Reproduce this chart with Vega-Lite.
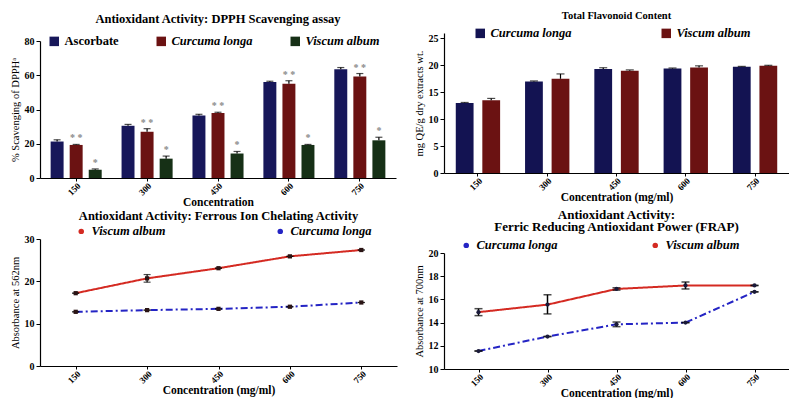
{
  "$schema": "https://vega.github.io/schema/vega-lite/v6.json",
  "background": "white",
  "padding": {"left": 10, "top": 10, "right": 0, "bottom": 0},
  "config": {
    "font": "Liberation Serif",
    "view": {"stroke": null},
    "axis": {"labelFont": "Liberation Serif", "labelFontWeight": "bold", "labelFontSize": 10, "labelColor": "#000", "labelOverlap": false, "titleFont": "Liberation Serif", "titleFontSize": 10, "titleColor": "#000", "domainColor": "#000", "domainWidth": 1.2, "tickColor": "#000", "grid": false, "tickSize": 4},
    "axisX": {"labelAngle": -45, "labelFontSize": 9, "tickSize": 3, "titleFontWeight": "bold", "titleFontSize": 11.5, "titlePadding": 0, "labelPadding": 0},
    "axisY": {"labelOverlap": false, "titleFontWeight": "normal", "titleFontSize": 10.5, "titlePadding": 4},
    "title": {"font": "Liberation Serif", "fontSize": 12.5, "fontWeight": "bold", "color": "#000"},
    "legend": {"labelFont": "Liberation Serif", "labelFontWeight": "bold", "labelFontSize": 12.5, "labelFontStyle": "italic", "labelColor": "#000"}
  },
  "resolve": {"scale": {"color": "independent", "strokeDash": "independent", "xOffset": "independent"}, "legend": {"color": "independent"}},
  "spacing": 17,
  "hconcat": [
    {
      "spacing": 0,
      "resolve": {"scale": {"color": "independent", "strokeDash": "independent", "xOffset": "independent"}, "legend": {"color": "independent"}},
      "vconcat": [
        {
          "title": {"text": "Antioxidant Activity: DPPH Scavenging assay", "offset": 10},
          "width": 356,
          "height": 137,
          "data": {"values": [
            {"conc": "150", "species": "Ascorbate", "value": 21.3, "hi": 22.3, "sig": ""},
            {"conc": "150", "species": "Curcuma longa", "value": 19.3, "hi": 19.6, "sig": "* *"},
            {"conc": "150", "species": "Viscum album", "value": 4.8, "hi": 5.3, "sig": "*"},
            {"conc": "300", "species": "Ascorbate", "value": 30.5, "hi": 31.3, "sig": ""},
            {"conc": "300", "species": "Curcuma longa", "value": 27.0, "hi": 28.8, "sig": "* *"},
            {"conc": "300", "species": "Viscum album", "value": 11.3, "hi": 12.8, "sig": "*"},
            {"conc": "450", "species": "Ascorbate", "value": 36.5, "hi": 37.2, "sig": ""},
            {"conc": "450", "species": "Curcuma longa", "value": 38.0, "hi": 38.4, "sig": "* *"},
            {"conc": "450", "species": "Viscum album", "value": 14.3, "hi": 15.5, "sig": "*"},
            {"conc": "600", "species": "Ascorbate", "value": 56.0, "hi": 56.5, "sig": ""},
            {"conc": "600", "species": "Curcuma longa", "value": 55.0, "hi": 56.8, "sig": "* *"},
            {"conc": "600", "species": "Viscum album", "value": 19.3, "hi": 19.6, "sig": "*"},
            {"conc": "750", "species": "Ascorbate", "value": 63.5, "hi": 64.5, "sig": ""},
            {"conc": "750", "species": "Curcuma longa", "value": 59.2, "hi": 61.0, "sig": "* *"},
            {"conc": "750", "species": "Viscum album", "value": 22.0, "hi": 23.8, "sig": "*"}
          ]},
          "encoding": {
            "x": {"field": "conc", "type": "ordinal", "sort": ["150", "300", "450", "600", "750"], "scale": {"paddingInner": 0.28, "paddingOuter": 0.15}, "axis": {"title": "Concentration"}},
            "xOffset": {"field": "species", "type": "nominal", "sort": ["Ascorbate", "Curcuma longa", "Viscum album"], "scale": {"paddingInner": 0.32}}
          },
          "layer": [
            {
              "mark": {"type": "bar"},
              "encoding": {
                "y": {"field": "value", "type": "quantitative", "scale": {"domain": [0, 80]}, "axis": {"values": [0, 20, 40, 60, 80], "tickCount": 20, "title": "% Scavenging of DPPHᵃ"}},
                "color": {"field": "species", "type": "nominal", "sort": ["Ascorbate", "Curcuma longa", "Viscum album"],
                  "scale": {"domain": ["Ascorbate", "Curcuma longa", "Viscum album"], "range": ["#17175a", "#6b1212", "#163016"]},
                  "legend": {"orient": "none", "legendX": 8, "legendY": -6, "direction": "horizontal", "title": null, "symbolType": "square", "symbolSize": 90, "symbolStrokeWidth": 0, "columnPadding": 36,
                    "encode": {"labels": {"update": {"fontStyle": {"signal": "datum.label === 'Ascorbate' ? 'normal' : 'italic'"}}}}}}
              }
            },
            {"mark": {"type": "rule", "color": "#000", "strokeWidth": 1.2}, "encoding": {"y": {"field": "value", "type": "quantitative"}, "y2": {"field": "hi"}}},
            {"mark": {"type": "tick", "color": "#000", "size": 7, "thickness": 1.2}, "encoding": {"y": {"field": "hi", "type": "quantitative"}}},
            {"mark": {"type": "text", "color": "#8a8a8a", "dy": -6, "fontSize": 10, "fontWeight": "bold"}, "encoding": {"y": {"field": "hi", "type": "quantitative"}, "text": {"field": "sig"}}}
          ]
        },
        {
          "title": {"text": "Antioxidant Activity: Ferrous Ion Chelating Activity", "offset": 3},
          "width": 357,
          "height": 127,
          "data": {"values": [
            {"conc": "150", "species": "Viscum album", "value": 17.2, "lo": 17.2, "hi": 17.2},
            {"conc": "300", "species": "Viscum album", "value": 20.7, "lo": 19.8, "hi": 21.6},
            {"conc": "450", "species": "Viscum album", "value": 23.1, "lo": 23.1, "hi": 23.1},
            {"conc": "600", "species": "Viscum album", "value": 25.9, "lo": 25.9, "hi": 25.9},
            {"conc": "750", "species": "Viscum album", "value": 27.4, "lo": 27.4, "hi": 27.4},
            {"conc": "150", "species": "Curcuma longa", "value": 12.8, "lo": 12.8, "hi": 12.8},
            {"conc": "300", "species": "Curcuma longa", "value": 13.2, "lo": 13.2, "hi": 13.2},
            {"conc": "450", "species": "Curcuma longa", "value": 13.5, "lo": 13.5, "hi": 13.5},
            {"conc": "600", "species": "Curcuma longa", "value": 14.0, "lo": 14.0, "hi": 14.0},
            {"conc": "750", "species": "Curcuma longa", "value": 15.0, "lo": 15.0, "hi": 15.0}
          ]},
          "encoding": {
            "x": {"field": "conc", "type": "ordinal", "sort": ["150", "300", "450", "600", "750"], "scale": {"type": "point", "padding": 0.5}, "axis": {"title": "Concentration (mg/ml)"}}
          },
          "layer": [
            {
              "mark": {"type": "line", "strokeWidth": 2},
              "encoding": {
                "y": {"field": "value", "type": "quantitative", "scale": {"domain": [0, 30]}, "axis": {"values": [0, 10, 20, 30], "tickCount": 20, "title": "Absorbance at 562nm"}},
                "color": {"field": "species", "type": "nominal",
                  "scale": {"domain": ["Viscum album", "Curcuma longa"], "range": ["#d42a22", "#2424c4"]},
                  "legend": {"orient": "none", "legendX": 35, "legendY": -14, "direction": "horizontal", "title": null, "symbolType": "circle", "symbolSize": 30, "columnPadding": 108,
                    "encode": {"symbols": {"update": {"fill": {"signal": "datum.value === 'Viscum album' ? '#d42a22' : '#2424c4'"}, "strokeWidth": {"value": 0}}}}}},
                "strokeDash": {"field": "species", "type": "nominal", "scale": {"domain": ["Viscum album", "Curcuma longa"], "range": [[1, 0], [7, 3, 2, 3]]}, "legend": null}
              }
            },
            {"mark": {"type": "rule", "color": "#000", "strokeWidth": 1.2}, "encoding": {"y": {"field": "lo", "type": "quantitative"}, "y2": {"field": "hi"}}},
            {"mark": {"type": "tick", "color": "#000", "size": 7, "thickness": 1.2}, "encoding": {"y": {"field": "hi", "type": "quantitative"}}},
            {"mark": {"type": "tick", "color": "#000", "size": 7, "thickness": 1.2}, "encoding": {"y": {"field": "lo", "type": "quantitative"}}},
            {"mark": {"type": "point", "filled": true, "color": "#2a1414", "size": 18, "shape": "square", "opacity": 1}, "encoding": {"y": {"field": "value", "type": "quantitative"}}}
          ]
        }
      ]
    },
    {
      "spacing": 5,
      "resolve": {"scale": {"color": "independent", "strokeDash": "independent", "xOffset": "independent"}, "legend": {"color": "independent"}},
      "vconcat": [
        {
          "title": {"text": "Total Flavonoid Content", "offset": 6, "fontSize": 10.5},
          "width": 345,
          "height": 132,
          "data": {"values": [
            {"conc": "150", "species": "Curcuma longa", "value": 13.0, "hi": 13.1},
            {"conc": "150", "species": "Viscum album", "value": 13.5, "hi": 13.85},
            {"conc": "300", "species": "Curcuma longa", "value": 17.0, "hi": 17.1},
            {"conc": "300", "species": "Viscum album", "value": 17.5, "hi": 18.4},
            {"conc": "450", "species": "Curcuma longa", "value": 19.3, "hi": 19.55},
            {"conc": "450", "species": "Viscum album", "value": 19.0, "hi": 19.15},
            {"conc": "600", "species": "Curcuma longa", "value": 19.4, "hi": 19.5},
            {"conc": "600", "species": "Viscum album", "value": 19.6, "hi": 19.9},
            {"conc": "750", "species": "Curcuma longa", "value": 19.75, "hi": 19.8},
            {"conc": "750", "species": "Viscum album", "value": 19.9, "hi": 20.0}
          ]},
          "encoding": {
            "x": {"field": "conc", "type": "ordinal", "sort": ["150", "300", "450", "600", "750"], "scale": {"paddingInner": 0.36, "paddingOuter": 0.17}, "axis": {"title": "Concentration (mg/ml)"}},
            "xOffset": {"field": "species", "type": "nominal", "sort": ["Curcuma longa", "Viscum album"], "scale": {"paddingInner": 0.33}}
          },
          "layer": [
            {
              "mark": {"type": "bar"},
              "encoding": {
                "y": {"field": "value", "type": "quantitative", "scale": {"domain": [0, 25], "range": [132, -8]}, "axis": {"values": [0, 5, 10, 15, 20, 25], "tickCount": 20, "title": "mg QE/g dry extracts wt."}},
                "color": {"field": "species", "type": "nominal",
                  "scale": {"domain": ["Curcuma longa", "Viscum album"], "range": ["#131352", "#6b1212"]},
                  "legend": {"orient": "none", "legendX": 30, "legendY": -14, "direction": "horizontal", "title": null, "symbolType": "square", "symbolSize": 90, "symbolStrokeWidth": 0, "columnPadding": 88}}
              }
            },
            {"mark": {"type": "rule", "color": "#000", "strokeWidth": 1.2}, "encoding": {"y": {"field": "value", "type": "quantitative"}, "y2": {"field": "hi"}}},
            {"mark": {"type": "tick", "color": "#000", "size": 8, "thickness": 1.2}, "encoding": {"y": {"field": "hi", "type": "quantitative"}}}
          ]
        },
        {
          "title": {"text": ["Antioxidant Activity:", "Ferric Reducing Antioxidant Power (FRAP)"], "offset": 5, "fontSize": 13, "lineHeight": 12},
          "width": 345,
          "height": 116,
          "data": {"values": [
            {"conc": "150", "species": "Viscum album", "value": 14.9, "lo": 14.6, "hi": 15.2},
            {"conc": "300", "species": "Viscum album", "value": 15.55, "lo": 14.75, "hi": 16.4},
            {"conc": "450", "species": "Viscum album", "value": 16.9, "lo": 16.8, "hi": 17.0},
            {"conc": "600", "species": "Viscum album", "value": 17.2, "lo": 16.9, "hi": 17.5},
            {"conc": "750", "species": "Viscum album", "value": 17.2, "lo": 17.2, "hi": 17.2},
            {"conc": "150", "species": "Curcuma longa", "value": 11.55, "lo": 11.55, "hi": 11.55},
            {"conc": "300", "species": "Curcuma longa", "value": 12.8, "lo": 12.8, "hi": 12.8},
            {"conc": "450", "species": "Curcuma longa", "value": 13.85, "lo": 13.65, "hi": 14.05},
            {"conc": "600", "species": "Curcuma longa", "value": 14.0, "lo": 14.0, "hi": 14.0},
            {"conc": "750", "species": "Curcuma longa", "value": 16.65, "lo": 16.65, "hi": 16.65}
          ]},
          "encoding": {
            "x": {"field": "conc", "type": "ordinal", "sort": ["150", "300", "450", "600", "750"], "scale": {"type": "point", "padding": 0.5}, "axis": {"title": "Concentration (mg/ml)"}}
          },
          "layer": [
            {
              "mark": {"type": "line", "strokeWidth": 2},
              "encoding": {
                "y": {"field": "value", "type": "quantitative", "scale": {"domain": [10, 20]}, "axis": {"values": [10, 12, 14, 16, 18, 20], "tickCount": 20, "format": "d", "title": "Absorbance at 700nm"}},
                "color": {"field": "species", "type": "nominal",
                  "scale": {"domain": ["Curcuma longa", "Viscum album"], "range": ["#2424c4", "#d42a22"]},
                  "legend": {"orient": "none", "legendX": 16, "legendY": -14, "direction": "horizontal", "title": null, "symbolType": "circle", "symbolSize": 30, "columnPadding": 91,
                    "encode": {"symbols": {"update": {"fill": {"signal": "datum.value === 'Viscum album' ? '#d42a22' : '#2424c4'"}, "strokeWidth": {"value": 0}}}}}},
                "strokeDash": {"field": "species", "type": "nominal", "scale": {"domain": ["Curcuma longa", "Viscum album"], "range": [[7, 3, 2, 3], [1, 0]]}, "legend": null}
              }
            },
            {"mark": {"type": "rule", "color": "#000", "strokeWidth": 1.5}, "encoding": {"y": {"field": "lo", "type": "quantitative"}, "y2": {"field": "hi"}}},
            {"mark": {"type": "tick", "color": "#000", "size": 8, "thickness": 1.5}, "encoding": {"y": {"field": "hi", "type": "quantitative"}}},
            {"mark": {"type": "tick", "color": "#000", "size": 8, "thickness": 1.5}, "encoding": {"y": {"field": "lo", "type": "quantitative"}}},
            {"mark": {"type": "point", "filled": true, "color": "#1a1a3a", "size": 18, "shape": "circle", "opacity": 1}, "encoding": {"y": {"field": "value", "type": "quantitative"}}}
          ]
        }
      ]
    }
  ]
}
